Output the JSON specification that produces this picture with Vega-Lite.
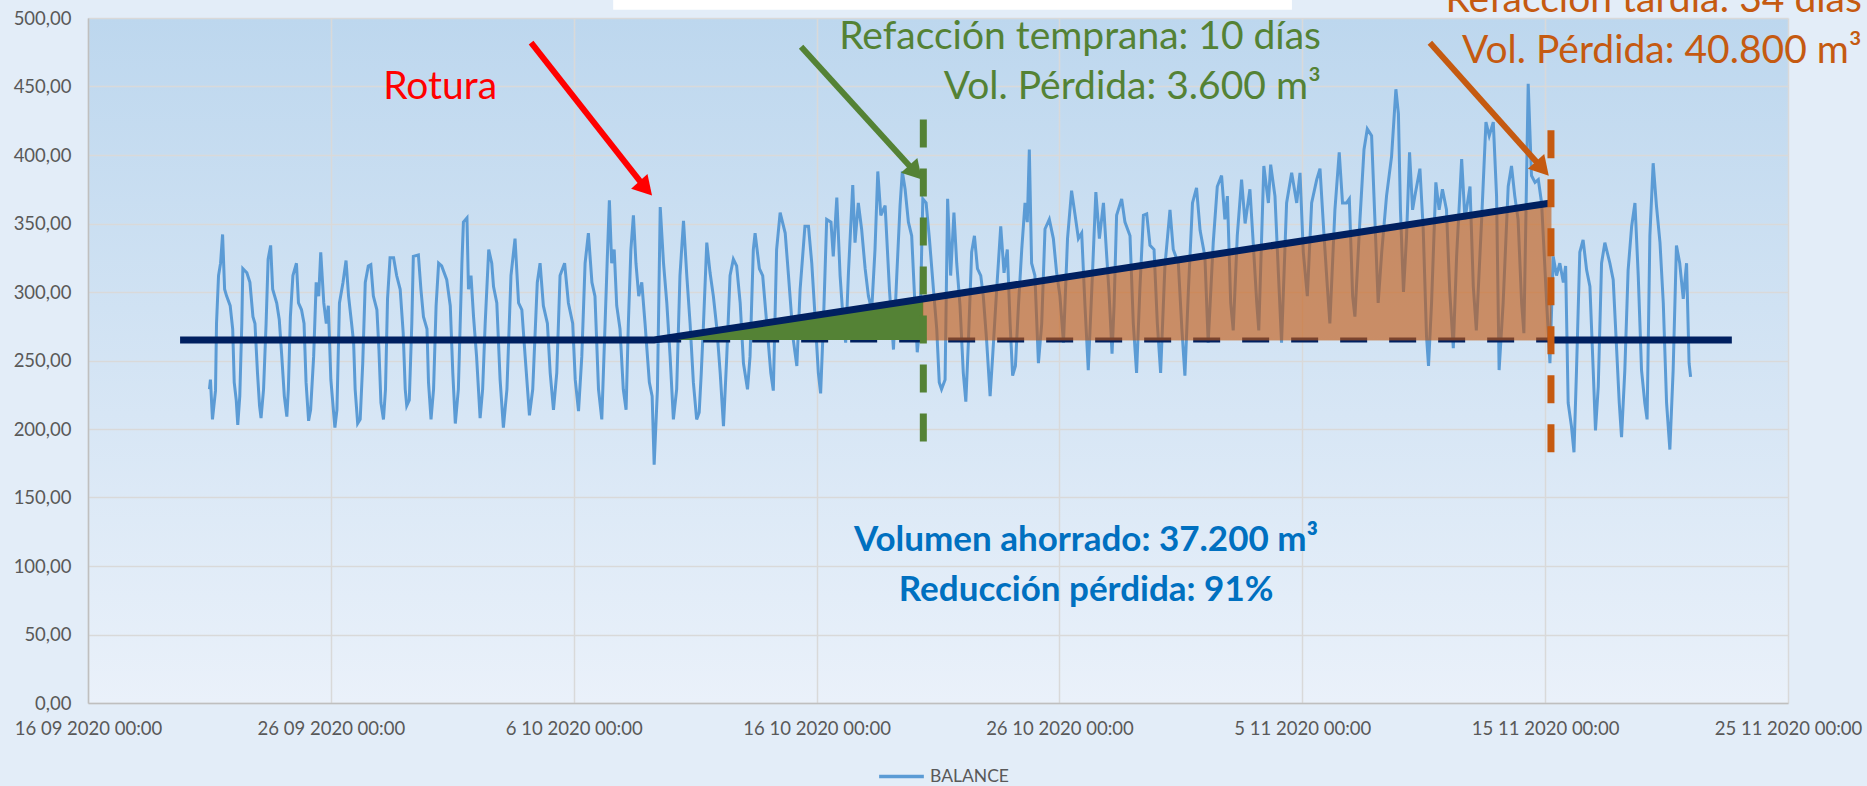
{
  "$schema": "https://vega.github.io/schema/vega-lite/v6.json",
  "width": 1700,
  "height": 685,
  "autosize": {"type": "none"},
  "padding": {"left": 88, "top": 18, "right": 79, "bottom": 83},
  "background": "#E3EDF8",
  "config": {
    "view": {"stroke": null, "fill": {"gradient": "linear", "x1": 0, "y1": 0, "x2": 0, "y2": 1, "stops": [{"offset": 0, "color": "#BDD7EE"}, {"offset": 1, "color": "#EAF1FA"}]}},
    "font": "Lato",
    "axis": {"domainColor": "#BFBFBF", "domainWidth": 1.5, "gridColor": "#D9D9D9", "gridWidth": 1.5, "ticks": false, "labelColor": "#595959", "labelFont": "Lato", "labelFontSize": 18.5, "title": null}
  },
  "datasets": {
    "serie": [
      {"t":"2020-09-21T00:00","v":229},{"t":"2020-09-21T01:00","v":236},{"t":"2020-09-21T03:00","v":207},{"t":"2020-09-21T06:00","v":228},{"t":"2020-09-21T07:00","v":277},{"t":"2020-09-21T09:00","v":312},{"t":"2020-09-21T11:00","v":321},{"t":"2020-09-21T13:00","v":342},{"t":"2020-09-21T15:00","v":302},{"t":"2020-09-21T17:00","v":297},{"t":"2020-09-21T20:30","v":290},{"t":"2020-09-21T23:00","v":273},
      {"t":"2020-09-22T00:30","v":234},{"t":"2020-09-22T02:30","v":221},{"t":"2020-09-22T04:00","v":203},{"t":"2020-09-22T06:00","v":224},{"t":"2020-09-22T08:00","v":277},{"t":"2020-09-22T09:00","v":317},{"t":"2020-09-22T13:00","v":314},{"t":"2020-09-22T16:00","v":307},{"t":"2020-09-22T19:00","v":282},{"t":"2020-09-22T21:00","v":277},{"t":"2020-09-22T23:30","v":241},
      {"t":"2020-09-23T01:30","v":217},{"t":"2020-09-23T03:00","v":208},{"t":"2020-09-23T05:30","v":229},{"t":"2020-09-23T08:00","v":277},{"t":"2020-09-23T10:00","v":324},{"t":"2020-09-23T12:30","v":334},{"t":"2020-09-23T14:30","v":302},{"t":"2020-09-23T18:30","v":292},{"t":"2020-09-23T21:00","v":280},{"t":"2020-09-23T23:30","v":253},
      {"t":"2020-09-24T02:00","v":224},{"t":"2020-09-24T04:30","v":209},{"t":"2020-09-24T06:00","v":229},{"t":"2020-09-24T08:00","v":282},{"t":"2020-09-24T10:30","v":312},{"t":"2020-09-24T14:00","v":321},{"t":"2020-09-24T16:00","v":292},{"t":"2020-09-24T19:00","v":287},{"t":"2020-09-24T21:30","v":277},{"t":"2020-09-24T23:30","v":234},
      {"t":"2020-09-25T02:00","v":206},{"t":"2020-09-25T04:00","v":214},{"t":"2020-09-25T07:00","v":253},{"t":"2020-09-25T09:30","v":307},{"t":"2020-09-25T12:00","v":297},{"t":"2020-09-25T14:00","v":329},{"t":"2020-09-25T17:00","v":292},{"t":"2020-09-25T19:30","v":277},{"t":"2020-09-25T21:30","v":290},
      {"t":"2020-09-26T00:00","v":236},{"t":"2020-09-26T02:30","v":214},{"t":"2020-09-26T04:00","v":201},{"t":"2020-09-26T06:00","v":214},{"t":"2020-09-26T08:30","v":292},{"t":"2020-09-26T12:00","v":307},{"t":"2020-09-26T15:00","v":323},{"t":"2020-09-26T17:30","v":297},{"t":"2020-09-26T20:30","v":277},{"t":"2020-09-26T22:30","v":263},
      {"t":"2020-09-27T00:00","v":229},{"t":"2020-09-27T02:30","v":204},{"t":"2020-09-27T05:00","v":207},{"t":"2020-09-27T07:30","v":248},{"t":"2020-09-27T10:00","v":307},{"t":"2020-09-27T13:00","v":319},{"t":"2020-09-27T15:30","v":320},{"t":"2020-09-27T18:00","v":297},{"t":"2020-09-27T21:30","v":287},{"t":"2020-09-27T23:30","v":258},
      {"t":"2020-09-28T01:30","v":219},{"t":"2020-09-28T04:00","v":207},{"t":"2020-09-28T06:00","v":229},{"t":"2020-09-28T08:00","v":295},{"t":"2020-09-28T10:30","v":325},{"t":"2020-09-28T14:00","v":325},{"t":"2020-09-28T17:00","v":312},{"t":"2020-09-28T20:30","v":302},{"t":"2020-09-28T23:30","v":270},
      {"t":"2020-09-29T01:30","v":229},{"t":"2020-09-29T03:00","v":217},{"t":"2020-09-29T05:30","v":221},{"t":"2020-09-29T08:00","v":277},{"t":"2020-09-29T09:30","v":326},{"t":"2020-09-29T14:30","v":327},{"t":"2020-09-29T17:00","v":302},{"t":"2020-09-29T19:30","v":282},{"t":"2020-09-29T23:00","v":273},
      {"t":"2020-09-30T00:30","v":234},{"t":"2020-09-30T03:00","v":207},{"t":"2020-09-30T05:30","v":229},{"t":"2020-09-30T08:00","v":290},{"t":"2020-09-30T10:30","v":321},{"t":"2020-09-30T13:30","v":319},{"t":"2020-09-30T18:30","v":309},{"t":"2020-09-30T22:00","v":290},
      {"t":"2020-10-01T00:30","v":241},{"t":"2020-10-01T03:00","v":204},{"t":"2020-10-01T06:00","v":229},{"t":"2020-10-01T09:30","v":321},{"t":"2020-10-01T11:00","v":351},{"t":"2020-10-01T14:30","v":354},{"t":"2020-10-01T16:00","v":302},{"t":"2020-10-01T18:30","v":312},{"t":"2020-10-01T21:00","v":282},
      {"t":"2020-10-02T00:00","v":253},{"t":"2020-10-02T03:30","v":208},{"t":"2020-10-02T06:00","v":229},{"t":"2020-10-02T08:30","v":277},{"t":"2020-10-02T12:00","v":331},{"t":"2020-10-02T15:00","v":321},{"t":"2020-10-02T16:45","v":304},{"t":"2020-10-02T20:00","v":292},{"t":"2020-10-02T23:15","v":236},
      {"t":"2020-10-03T02:30","v":201},{"t":"2020-10-03T06:00","v":229},{"t":"2020-10-03T10:00","v":312},{"t":"2020-10-03T14:00","v":339},{"t":"2020-10-03T17:30","v":292},{"t":"2020-10-03T20:45","v":287},
      {"t":"2020-10-04T00:00","v":253},{"t":"2020-10-04T04:15","v":210},{"t":"2020-10-04T07:30","v":229},{"t":"2020-10-04T12:00","v":307},{"t":"2020-10-04T14:45","v":321},{"t":"2020-10-04T18:00","v":290},{"t":"2020-10-04T22:00","v":277},
      {"t":"2020-10-05T00:45","v":241},{"t":"2020-10-05T04:00","v":214},{"t":"2020-10-05T07:15","v":241},{"t":"2020-10-05T10:30","v":312},{"t":"2020-10-05T15:00","v":321},{"t":"2020-10-05T18:45","v":292},{"t":"2020-10-05T23:00","v":277},
      {"t":"2020-10-06T01:30","v":236},{"t":"2020-10-06T04:45","v":213},{"t":"2020-10-06T08:00","v":253},{"t":"2020-10-06T11:15","v":321},{"t":"2020-10-06T14:30","v":343},{"t":"2020-10-06T18:00","v":307},{"t":"2020-10-06T21:00","v":297},
      {"t":"2020-10-07T00:30","v":229},{"t":"2020-10-07T03:45","v":207},{"t":"2020-10-07T07:00","v":277},{"t":"2020-10-07T09:15","v":326},{"t":"2020-10-07T11:15","v":367},{"t":"2020-10-07T13:30","v":321},{"t":"2020-10-07T16:00","v":331},{"t":"2020-10-07T18:30","v":290},{"t":"2020-10-07T21:45","v":273},
      {"t":"2020-10-08T01:00","v":229},{"t":"2020-10-08T03:45","v":214},{"t":"2020-10-08T06:00","v":277},{"t":"2020-10-08T08:30","v":331},{"t":"2020-10-08T11:00","v":356},{"t":"2020-10-08T13:30","v":321},{"t":"2020-10-08T16:15","v":297},{"t":"2020-10-08T19:15","v":307},{"t":"2020-10-08T22:30","v":277},
      {"t":"2020-10-09T02:45","v":234},{"t":"2020-10-09T05:30","v":224},{"t":"2020-10-09T07:30","v":174},{"t":"2020-10-09T10:45","v":229},{"t":"2020-10-09T13:30","v":362},{"t":"2020-10-09T16:45","v":321},{"t":"2020-10-09T20:00","v":292},{"t":"2020-10-09T23:15","v":253},
      {"t":"2020-10-10T02:30","v":207},{"t":"2020-10-10T05:45","v":229},{"t":"2020-10-10T09:00","v":312},{"t":"2020-10-10T12:30","v":352},{"t":"2020-10-10T15:45","v":312},{"t":"2020-10-10T19:00","v":277},{"t":"2020-10-10T22:15","v":234},
      {"t":"2020-10-11T01:30","v":207},{"t":"2020-10-11T04:00","v":212},{"t":"2020-10-11T06:00","v":240},{"t":"2020-10-11T08:15","v":277},{"t":"2020-10-11T11:30","v":336},{"t":"2020-10-11T14:45","v":314},{"t":"2020-10-11T18:00","v":297},{"t":"2020-10-11T21:30","v":273},
      {"t":"2020-10-12T00:45","v":241},{"t":"2020-10-12T04:00","v":202},{"t":"2020-10-12T07:15","v":253},{"t":"2020-10-12T10:30","v":312},{"t":"2020-10-12T13:45","v":324},{"t":"2020-10-12T17:00","v":319},{"t":"2020-10-12T20:30","v":292},{"t":"2020-10-12T23:45","v":248},
      {"t":"2020-10-13T03:45","v":229},{"t":"2020-10-13T06:15","v":253},{"t":"2020-10-13T09:30","v":331},{"t":"2020-10-13T11:15","v":343},{"t":"2020-10-13T15:30","v":317},{"t":"2020-10-13T18:45","v":312},{"t":"2020-10-13T22:45","v":277},
      {"t":"2020-10-14T02:45","v":241},{"t":"2020-10-14T05:15","v":228},{"t":"2020-10-14T08:30","v":331},{"t":"2020-10-14T12:00","v":358},{"t":"2020-10-14T17:00","v":343},{"t":"2020-10-14T20:15","v":312},
      {"t":"2020-10-15T01:00","v":265},{"t":"2020-10-15T04:30","v":246},{"t":"2020-10-15T07:45","v":302},{"t":"2020-10-15T12:30","v":348},{"t":"2020-10-15T16:00","v":348},{"t":"2020-10-15T19:15","v":321},{"t":"2020-10-15T22:30","v":282},
      {"t":"2020-10-16T01:45","v":241},{"t":"2020-10-16T04:00","v":226},{"t":"2020-10-16T06:45","v":277},{"t":"2020-10-16T10:00","v":353},{"t":"2020-10-16T14:15","v":351},{"t":"2020-10-16T16:30","v":326},{"t":"2020-10-16T20:00","v":369},{"t":"2020-10-16T23:15","v":312},
      {"t":"2020-10-17T02:30","v":277},{"t":"2020-10-17T04:45","v":263},{"t":"2020-10-17T07:30","v":314},{"t":"2020-10-17T11:45","v":378},{"t":"2020-10-17T14:00","v":336},{"t":"2020-10-17T17:15","v":365},{"t":"2020-10-17T20:30","v":346},
      {"t":"2020-10-18T00:00","v":317},{"t":"2020-10-18T03:15","v":297},{"t":"2020-10-18T06:30","v":287},{"t":"2020-10-18T09:45","v":331},{"t":"2020-10-18T12:30","v":388},{"t":"2020-10-18T15:30","v":356},{"t":"2020-10-18T19:45","v":363},
      {"t":"2020-10-19T00:00","v":302},{"t":"2020-10-19T04:00","v":258},{"t":"2020-10-19T07:15","v":312},{"t":"2020-10-19T10:30","v":363},{"t":"2020-10-19T12:45","v":388},{"t":"2020-10-19T15:30","v":375},{"t":"2020-10-19T18:45","v":351},{"t":"2020-10-19T22:00","v":341},
      {"t":"2020-10-20T01:15","v":290},{"t":"2020-10-20T03:30","v":256},{"t":"2020-10-20T06:15","v":277},{"t":"2020-10-20T09:00","v":368},{"t":"2020-10-20T12:15","v":365},{"t":"2020-10-20T15:30","v":339},{"t":"2020-10-20T19:30","v":302},{"t":"2020-10-20T22:45","v":273},
      {"t":"2020-10-21T01:15","v":234},{"t":"2020-10-21T03:30","v":229},{"t":"2020-10-21T07:00","v":236},{"t":"2020-10-21T09:30","v":368},{"t":"2020-10-21T12:30","v":312},{"t":"2020-10-21T15:45","v":358},{"t":"2020-10-21T18:30","v":321},{"t":"2020-10-21T21:45","v":290},
      {"t":"2020-10-22T01:00","v":241},{"t":"2020-10-22T03:30","v":220},{"t":"2020-10-22T06:00","v":263},{"t":"2020-10-22T09:15","v":329},{"t":"2020-10-22T12:00","v":341},{"t":"2020-10-22T15:00","v":317},{"t":"2020-10-22T18:15","v":312},{"t":"2020-10-22T20:45","v":297},
      {"t":"2020-10-23T00:00","v":265},{"t":"2020-10-23T03:30","v":224},{"t":"2020-10-23T06:00","v":253},{"t":"2020-10-23T10:00","v":302},{"t":"2020-10-23T14:00","v":348},{"t":"2020-10-23T17:15","v":314},{"t":"2020-10-23T20:30","v":331},{"t":"2020-10-23T23:15","v":277},
      {"t":"2020-10-24T01:45","v":239},{"t":"2020-10-24T04:30","v":246},{"t":"2020-10-24T07:30","v":290},{"t":"2020-10-24T10:45","v":331},{"t":"2020-10-24T14:00","v":365},{"t":"2020-10-24T16:15","v":351},{"t":"2020-10-24T18:15","v":404},{"t":"2020-10-24T20:30","v":321},{"t":"2020-10-24T23:45","v":312},
      {"t":"2020-10-25T03:15","v":248},{"t":"2020-10-25T06:30","v":277},{"t":"2020-10-25T09:45","v":346},{"t":"2020-10-25T14:00","v":353},{"t":"2020-10-25T18:00","v":339},{"t":"2020-10-25T21:15","v":314},
      {"t":"2020-10-26T00:30","v":297},{"t":"2020-10-26T04:00","v":263},{"t":"2020-10-26T08:00","v":339},{"t":"2020-10-26T12:00","v":374},{"t":"2020-10-26T15:30","v":356},{"t":"2020-10-26T18:45","v":339},{"t":"2020-10-26T22:00","v":343},
      {"t":"2020-10-27T01:15","v":290},{"t":"2020-10-27T04:30","v":243},{"t":"2020-10-27T08:00","v":302},{"t":"2020-10-27T12:00","v":373},{"t":"2020-10-27T15:30","v":339},{"t":"2020-10-27T19:30","v":365},{"t":"2020-10-27T22:45","v":326},
      {"t":"2020-10-28T01:00","v":300},{"t":"2020-10-28T04:00","v":255},{"t":"2020-10-28T06:00","v":290},{"t":"2020-10-28T08:30","v":356},{"t":"2020-10-28T13:30","v":368},{"t":"2020-10-28T16:45","v":351},{"t":"2020-10-28T21:45","v":341},
      {"t":"2020-10-29T01:00","v":277},{"t":"2020-10-29T04:15","v":241},{"t":"2020-10-29T07:30","v":302},{"t":"2020-10-29T11:00","v":356},{"t":"2020-10-29T14:15","v":357},{"t":"2020-10-29T17:30","v":334},{"t":"2020-10-29T21:30","v":331},
      {"t":"2020-10-30T00:45","v":277},{"t":"2020-10-30T04:00","v":241},{"t":"2020-10-30T08:15","v":319},{"t":"2020-10-30T13:15","v":360},{"t":"2020-10-30T16:30","v":331},{"t":"2020-10-30T21:30","v":321},
      {"t":"2020-10-31T01:00","v":273},{"t":"2020-10-31T04:00","v":239},{"t":"2020-10-31T07:30","v":302},{"t":"2020-10-31T11:30","v":365},{"t":"2020-10-31T15:30","v":376},{"t":"2020-10-31T19:00","v":345},{"t":"2020-10-31T23:45","v":326},
      {"t":"2020-11-01T03:00","v":263},{"t":"2020-11-01T08:00","v":336},{"t":"2020-11-01T12:00","v":377},{"t":"2020-11-01T16:15","v":385},{"t":"2020-11-01T19:30","v":353},{"t":"2020-11-01T22:00","v":370},
      {"t":"2020-11-02T01:15","v":292},{"t":"2020-11-02T03:45","v":272},{"t":"2020-11-02T07:45","v":341},{"t":"2020-11-02T12:00","v":382},{"t":"2020-11-02T15:30","v":350},{"t":"2020-11-02T20:15","v":375},{"t":"2020-11-02T23:30","v":336},
      {"t":"2020-11-03T03:00","v":292},{"t":"2020-11-03T05:00","v":272},{"t":"2020-11-03T10:00","v":392},{"t":"2020-11-03T14:30","v":365},{"t":"2020-11-03T16:45","v":393},{"t":"2020-11-03T21:00","v":370},
      {"t":"2020-11-04T00:15","v":316},{"t":"2020-11-04T03:30","v":263},{"t":"2020-11-04T08:30","v":365},{"t":"2020-11-04T13:30","v":387},{"t":"2020-11-04T18:30","v":365},{"t":"2020-11-04T21:45","v":387},
      {"t":"2020-11-05T01:00","v":329},{"t":"2020-11-05T05:00","v":297},{"t":"2020-11-05T09:15","v":365},{"t":"2020-11-05T14:15","v":382},{"t":"2020-11-05T17:30","v":390},{"t":"2020-11-05T21:30","v":341},
      {"t":"2020-11-06T00:45","v":304},{"t":"2020-11-06T03:15","v":277},{"t":"2020-11-06T08:15","v":360},{"t":"2020-11-06T12:30","v":402},{"t":"2020-11-06T15:45","v":365},{"t":"2020-11-06T19:45","v":365},{"t":"2020-11-06T22:30","v":368},
      {"t":"2020-11-07T01:45","v":297},{"t":"2020-11-07T04:00","v":282},{"t":"2020-11-07T09:00","v":353},{"t":"2020-11-07T13:00","v":404},{"t":"2020-11-07T16:15","v":419},{"t":"2020-11-07T20:30","v":414},{"t":"2020-11-07T23:45","v":353},
      {"t":"2020-11-08T03:00","v":292},{"t":"2020-11-08T06:30","v":329},{"t":"2020-11-08T11:15","v":370},{"t":"2020-11-08T16:15","v":399},{"t":"2020-11-08T20:30","v":448},{"t":"2020-11-08T23:00","v":430},
      {"t":"2020-11-09T01:00","v":360},{"t":"2020-11-09T04:00","v":300},{"t":"2020-11-09T07:00","v":340},{"t":"2020-11-09T10:00","v":402},{"t":"2020-11-09T13:00","v":360},{"t":"2020-11-09T15:15","v":370},{"t":"2020-11-09T20:15","v":390},{"t":"2020-11-09T23:30","v":346},
      {"t":"2020-11-10T02:45","v":268},{"t":"2020-11-10T04:45","v":246},{"t":"2020-11-10T07:45","v":292},{"t":"2020-11-10T12:00","v":380},{"t":"2020-11-10T15:15","v":360},{"t":"2020-11-10T18:30","v":375},{"t":"2020-11-10T22:30","v":360},
      {"t":"2020-11-11T01:45","v":300},{"t":"2020-11-11T05:15","v":259},{"t":"2020-11-11T08:30","v":326},{"t":"2020-11-11T13:30","v":397},{"t":"2020-11-11T16:45","v":353},{"t":"2020-11-11T21:45","v":377},
      {"t":"2020-11-12T01:00","v":304},{"t":"2020-11-12T04:00","v":272},{"t":"2020-11-12T09:15","v":353},{"t":"2020-11-12T13:30","v":424},{"t":"2020-11-12T16:45","v":414},{"t":"2020-11-12T20:45","v":424},
      {"t":"2020-11-13T00:00","v":370},{"t":"2020-11-13T02:30","v":243},{"t":"2020-11-13T06:30","v":292},{"t":"2020-11-13T11:30","v":377},{"t":"2020-11-13T14:45","v":392},{"t":"2020-11-13T18:00","v":370},{"t":"2020-11-13T21:15","v":353},
      {"t":"2020-11-14T00:45","v":292},{"t":"2020-11-14T03:00","v":270},{"t":"2020-11-14T07:15","v":452},{"t":"2020-11-14T10:30","v":385},{"t":"2020-11-14T14:00","v":380},{"t":"2020-11-14T17:15","v":382},{"t":"2020-11-14T20:30","v":365},
      {"t":"2020-11-15T01:30","v":292},{"t":"2020-11-15T04:45","v":248},{"t":"2020-11-15T08:00","v":326},{"t":"2020-11-15T11:15","v":312},{"t":"2020-11-15T14:30","v":321},{"t":"2020-11-15T18:00","v":307},{"t":"2020-11-15T20:15","v":319},{"t":"2020-11-15T22:45","v":219},
      {"t":"2020-11-16T02:00","v":202},{"t":"2020-11-16T04:30","v":183},{"t":"2020-11-16T07:00","v":243},{"t":"2020-11-16T10:15","v":329},{"t":"2020-11-16T13:30","v":338},{"t":"2020-11-16T17:00","v":316},{"t":"2020-11-16T20:15","v":304},{"t":"2020-11-16T23:30","v":243},
      {"t":"2020-11-17T01:45","v":199},{"t":"2020-11-17T04:30","v":231},{"t":"2020-11-17T07:45","v":321},{"t":"2020-11-17T11:00","v":336},{"t":"2020-11-17T16:00","v":321},{"t":"2020-11-17T19:15","v":309},{"t":"2020-11-17T22:00","v":268},
      {"t":"2020-11-18T01:15","v":219},{"t":"2020-11-18T03:30","v":194},{"t":"2020-11-18T06:45","v":243},{"t":"2020-11-18T10:00","v":316},{"t":"2020-11-18T13:30","v":348},{"t":"2020-11-18T16:45","v":365},{"t":"2020-11-18T20:00","v":312},{"t":"2020-11-18T23:15","v":243},
      {"t":"2020-11-19T02:30","v":219},{"t":"2020-11-19T04:45","v":207},{"t":"2020-11-19T07:30","v":341},{"t":"2020-11-19T10:45","v":394},{"t":"2020-11-19T14:00","v":363},{"t":"2020-11-19T17:30","v":336},{"t":"2020-11-19T20:45","v":292},
      {"t":"2020-11-20T00:00","v":219},{"t":"2020-11-20T03:15","v":185},{"t":"2020-11-20T06:30","v":243},{"t":"2020-11-20T09:45","v":334},{"t":"2020-11-20T13:00","v":321},{"t":"2020-11-20T16:30","v":295},{"t":"2020-11-20T19:45","v":321},{"t":"2020-11-20T22:15","v":248},{"t":"2020-11-20T23:45","v":238}
    ],
    "navy": [{"t":"2020-09-19T19:00","v":265},{"t":"2020-10-09T07:30","v":265},{"t":"2020-11-15T05:45","v":365}],
    "navy2": [{"t":"2020-11-15T05:45","v":265},{"t":"2020-11-22T16:30","v":265}],
    "base": [{"t":"2020-10-09T07:30","v":265},{"t":"2020-11-15T05:45","v":265}],
    "verde": [{"t":"2020-10-09T07:30","lo":265,"hi":265},{"t":"2020-10-20T09:30","lo":265,"hi":295}],
    "naranja": [{"t":"2020-10-20T09:30","lo":265,"hi":295},{"t":"2020-11-15T05:45","lo":265,"hi":365}],
    "caja": [{"t1":"2020-10-07T15:00","t2":"2020-11-04T13:45","y1":506,"y2":530}]
  },
  "layer": [
    {
      "data": {"name": "caja"},
      "mark": {"type": "rect", "fill": "white"},
      "encoding": {
        "x": {"field": "t1", "type": "temporal"},
        "x2": {"field": "t2"},
        "y": {"field": "y1", "type": "quantitative"},
        "y2": {"field": "y2"}
      }
    },
    {
      "data": {"name": "serie"},
      "mark": {"type": "line", "strokeWidth": 3},
      "encoding": {
        "x": {
          "field": "t", "type": "temporal",
          "scale": {"domain": [{"year": 2020, "month": 9, "date": 16}, {"year": 2020, "month": 11, "date": 25}]},
          "axis": {
            "values": [{"year": 2020, "month": 9, "date": 16}, {"year": 2020, "month": 9, "date": 26}, {"year": 2020, "month": 10, "date": 6}, {"year": 2020, "month": 10, "date": 16}, {"year": 2020, "month": 10, "date": 26}, {"year": 2020, "month": 11, "date": 5}, {"year": 2020, "month": 11, "date": 15}, {"year": 2020, "month": 11, "date": 25}],
            "format": "%-d %m %Y %H:%M", "labelFlush": false, "labelPadding": 16, "grid": true
          }
        },
        "y": {
          "field": "v", "type": "quantitative",
          "scale": {"domain": [0, 500], "nice": false},
          "axis": {"values": [0, 50, 100, 150, 200, 250, 300, 350, 400, 450, 500], "labelExpr": "replace(format(datum.value, '.2f'), '.', ',')", "labelPadding": 17, "grid": true}
        },
        "color": {
          "datum": "BALANCE", "type": "nominal",
          "scale": {"range": ["#5B9BD5"]},
          "legend": {"orient": "none", "legendX": 789, "legendY": 734, "title": null, "symbolType": "stroke", "symbolSize": 2000, "symbolStrokeWidth": 3.5, "labelFontSize": 17.5, "labelColor": "#595959", "labelFont": "Lato", "padding": 0, "labelOffset": 4}
        }
      }
    },
    {
      "data": {"name": "base"},
      "mark": {"type": "line", "color": "#002060", "strokeWidth": 5, "strokeDash": [27, 22]},
      "encoding": {"x": {"field": "t", "type": "temporal"}, "y": {"field": "v", "type": "quantitative"}}
    },
    {
      "data": {"name": "verde"},
      "mark": {"type": "area", "color": "#548235", "opacity": 1},
      "encoding": {"x": {"field": "t", "type": "temporal"}, "y": {"field": "hi", "type": "quantitative"}, "y2": {"field": "lo"}}
    },
    {
      "data": {"name": "naranja"},
      "mark": {"type": "area", "color": "#C55A11", "opacity": 0.62, "stroke": "#C55A11", "strokeWidth": 1},
      "encoding": {"x": {"field": "t", "type": "temporal"}, "y": {"field": "hi", "type": "quantitative"}, "y2": {"field": "lo"}}
    },
    {
      "data": {"name": "navy"},
      "mark": {"type": "line", "color": "#002060", "strokeWidth": 7},
      "encoding": {"x": {"field": "t", "type": "temporal"}, "y": {"field": "v", "type": "quantitative"}}
    },
    {
      "data": {"name": "navy2"},
      "mark": {"type": "line", "color": "#002060", "strokeWidth": 7},
      "encoding": {"x": {"field": "t", "type": "temporal"}, "y": {"field": "v", "type": "quantitative"}}
    },
    {
      "data": {"values": [{"t": "2020-10-20T09:30", "y1": 426, "y2": 190}]},
      "mark": {"type": "rule", "color": "#548235", "strokeWidth": 7, "strokeDash": [28, 21]},
      "encoding": {"x": {"field": "t", "type": "temporal"}, "y": {"field": "y1", "type": "quantitative"}, "y2": {"field": "y2"}}
    },
    {
      "data": {"values": [{"t": "2020-11-15T05:45", "y1": 418, "y2": 183}]},
      "mark": {"type": "rule", "color": "#C55A11", "strokeWidth": 7, "strokeDash": [28, 21]},
      "encoding": {"x": {"field": "t", "type": "temporal"}, "y": {"field": "y1", "type": "quantitative"}, "y2": {"field": "y2"}}
    },
    {
      "data": {"values": [{"t1": "2020-10-04T05:54", "v1": 482, "t2": "2020-10-08T23:06", "v2": 375.6}]},
      "mark": {"type": "rule", "color": "#FF0000", "strokeWidth": 6},
      "encoding": {"x": {"field": "t1", "type": "temporal"}, "y": {"field": "v1", "type": "quantitative"}, "x2": {"field": "t2"}, "y2": {"field": "v2"}}
    },
    {
      "data": {"values": [{"t": "2020-10-08T23:06", "v": 375.6}]},
      "mark": {"type": "point", "shape": "triangle-up", "angle": 138, "size": 484, "filled": true, "opacity": 1, "color": "#FF0000"},
      "encoding": {"x": {"field": "t", "type": "temporal"}, "y": {"field": "v", "type": "quantitative"}}
    },
    {
      "data": {"values": [{"t1": "2020-10-15T08:42", "v1": 479, "t2": "2020-10-20T01:48", "v2": 387.2}]},
      "mark": {"type": "rule", "color": "#548235", "strokeWidth": 6},
      "encoding": {"x": {"field": "t1", "type": "temporal"}, "y": {"field": "v1", "type": "quantitative"}, "x2": {"field": "t2"}, "y2": {"field": "v2"}}
    },
    {
      "data": {"values": [{"t": "2020-10-20T01:48", "v": 387.2}]},
      "mark": {"type": "point", "shape": "triangle-up", "angle": 138, "size": 484, "filled": true, "opacity": 1, "color": "#548235"},
      "encoding": {"x": {"field": "t", "type": "temporal"}, "y": {"field": "v", "type": "quantitative"}}
    },
    {
      "data": {"values": [{"t1": "2020-11-10T06:06", "v1": 482, "t2": "2020-11-14T21:18", "v2": 390.1}]},
      "mark": {"type": "rule", "color": "#C55A11", "strokeWidth": 6},
      "encoding": {"x": {"field": "t1", "type": "temporal"}, "y": {"field": "v1", "type": "quantitative"}, "x2": {"field": "t2"}, "y2": {"field": "v2"}}
    },
    {
      "data": {"values": [{"t": "2020-11-14T21:18", "v": 390.1}]},
      "mark": {"type": "point", "shape": "triangle-up", "angle": 138, "size": 484, "filled": true, "opacity": 1, "color": "#C55A11"},
      "encoding": {"x": {"field": "t", "type": "temporal"}, "y": {"field": "v", "type": "quantitative"}}
    },
    {
      "data": {"values": [{"t": "2020-09-30T12:00", "v": 450, "label": "Rotura"}]},
      "mark": {"type": "text", "color": "#FF0000", "font": "Lato", "fontSize": 39, "align": "center", "baseline": "middle"},
      "encoding": {"x": {"field": "t", "type": "temporal"}, "y": {"field": "v", "type": "quantitative"}, "text": {"field": "label"}}
    },
    {
      "data": {"values": [{"t": "2020-11-05T18:30", "v": 486.4, "label": "Refacción temprana: 10 días"}, {"t": "2020-11-05T18:30", "v": 449.9, "label": "Vol. Pérdida: 3.600 m³"}]},
      "mark": {"type": "text", "color": "#548235", "font": "Lato", "fontSize": 39, "align": "right", "baseline": "middle"},
      "encoding": {"x": {"field": "t", "type": "temporal"}, "y": {"field": "v", "type": "quantitative"}, "text": {"field": "label"}}
    },
    {
      "data": {"values": [{"t": "2020-11-28T01:00", "v": 513, "label": "Refacción tardía: 34 días"}, {"t": "2020-11-28T01:00", "v": 476, "label": "Vol. Pérdida: 40.800 m³"}]},
      "mark": {"type": "text", "color": "#C55A11", "font": "Lato", "fontSize": 39, "align": "right", "baseline": "middle"},
      "encoding": {"x": {"field": "t", "type": "temporal"}, "y": {"field": "v", "type": "quantitative"}, "text": {"field": "label"}}
    },
    {
      "data": {"values": [{"t": "2020-10-27T02:20", "v": 119, "label": "Volumen ahorrado: 37.200 m³"}, {"t": "2020-10-27T02:20", "v": 82.5, "label": "Reducción pérdida: 91%"}]},
      "mark": {"type": "text", "color": "#0070C0", "font": "Lato", "fontWeight": "bold", "fontSize": 35, "align": "center", "baseline": "middle"},
      "encoding": {"x": {"field": "t", "type": "temporal"}, "y": {"field": "v", "type": "quantitative"}, "text": {"field": "label"}}
    }
  ]
}
